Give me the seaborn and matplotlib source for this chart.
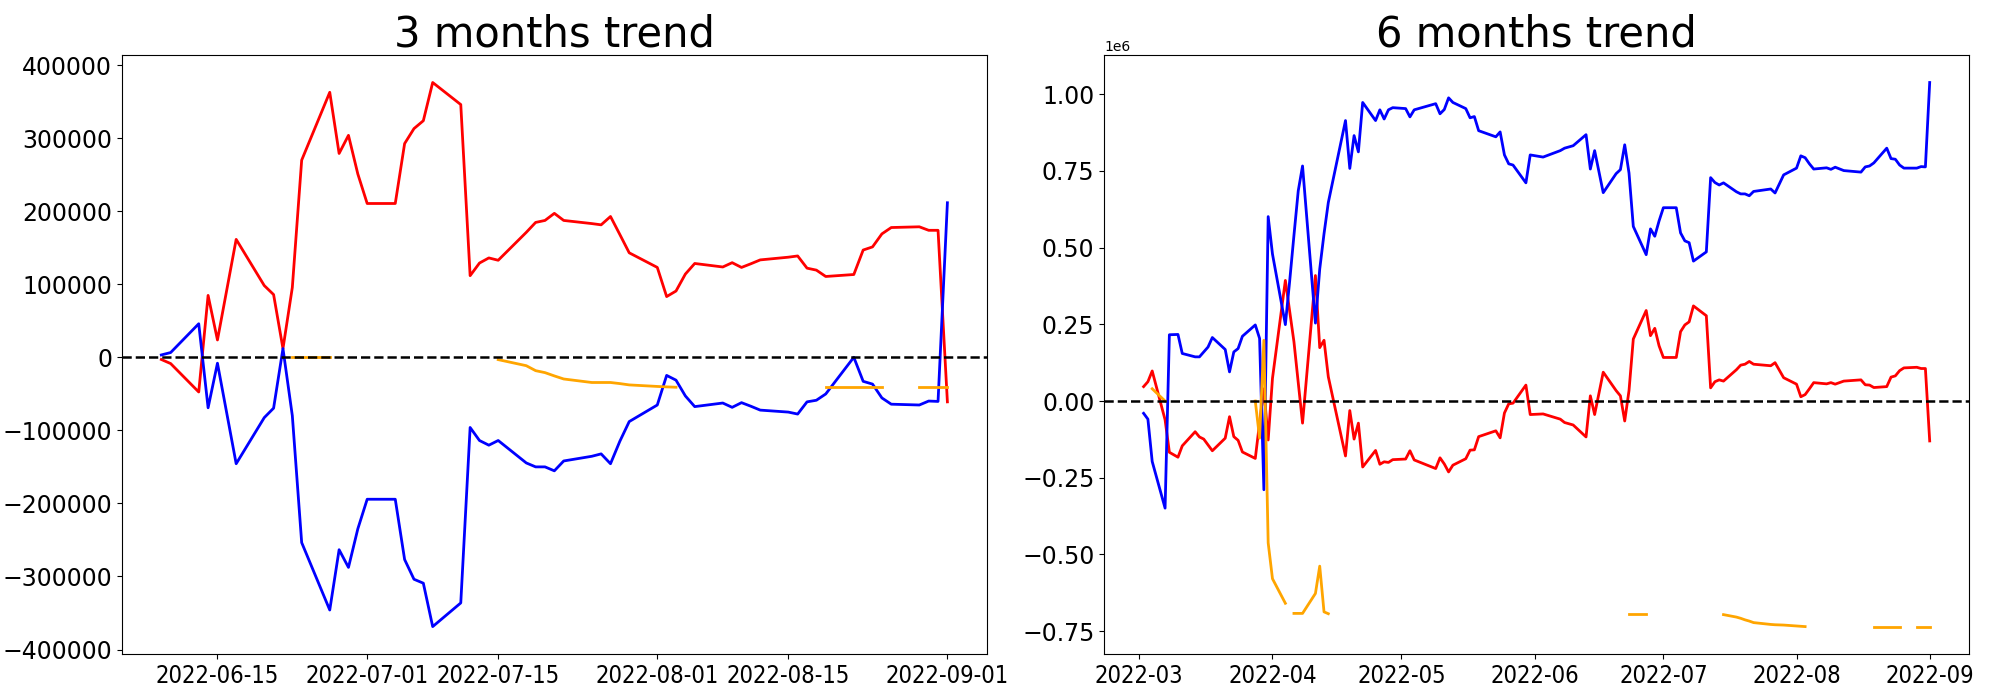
import matplotlib

matplotlib.use("Agg")
import matplotlib.dates as mdates
import matplotlib.pyplot as plt
import pandas as pd
import seaborn as sns

# ---- 3 months panel ----
dates_3m = [
    "2022-06-09", "2022-06-10", "2022-06-13", "2022-06-14", "2022-06-15", "2022-06-17",
    "2022-06-20", "2022-06-21", "2022-06-22", "2022-06-23", "2022-06-24", "2022-06-27",
    "2022-06-28", "2022-06-29", "2022-06-30", "2022-07-01", "2022-07-04", "2022-07-05",
    "2022-07-06", "2022-07-07", "2022-07-08", "2022-07-11", "2022-07-12", "2022-07-13",
    "2022-07-14", "2022-07-15", "2022-07-18", "2022-07-19", "2022-07-20", "2022-07-21",
    "2022-07-22", "2022-07-25", "2022-07-26", "2022-07-27", "2022-07-28", "2022-07-29",
    "2022-08-01", "2022-08-02", "2022-08-03", "2022-08-04", "2022-08-05", "2022-08-08",
    "2022-08-09", "2022-08-10", "2022-08-11", "2022-08-12", "2022-08-15", "2022-08-16",
    "2022-08-17", "2022-08-18", "2022-08-19", "2022-08-22", "2022-08-23", "2022-08-24",
    "2022-08-25", "2022-08-26", "2022-08-29", "2022-08-30", "2022-08-31", "2022-09-01",
]
red_3m = [
    -3000, -8600, -47500, 84700, 23700, 161400,
    98200, 85800, 11900, 95500, 269800, 362700,
    279000, 303800, 250900, 210500, 210500, 292500,
    313000, 323800, 376100, 345900, 111700, 129000,
    136000, 132800, 171000, 184600, 187300, 197000,
    187300, 183000, 181300, 192700, 168000, 143000,
    123000, 83100, 90700, 113900, 128400, 123600,
    129500, 123000, 128000, 133300, 137000, 138700,
    122000, 119300, 110600, 113300, 146800, 151100,
    168900, 177600, 178600, 173800, 173800, -61000,
]
blue_3m = [
    3200, 6500, 45900, -69100, -8100, -145700,
    -82600, -69600, 11900, -79900, -253600, -345900,
    -263400, -287600, -234800, -194300, -194300, -276800,
    -303800, -309200, -368600, -336200, -96100, -113900,
    -120300, -113900, -144600, -150000, -150000, -155400,
    -141900, -135500, -132200, -145700, -114900, -88000,
    -65300, -24800, -31300, -52900, -67500, -62600,
    -68500, -62100, -67000, -72300, -75000, -77700,
    -61000, -58800, -50200, 0, -32900, -36700,
    -55600, -64200, -65300, -59900, -60400, 211500,
]
orange_3m = [
    None, None, None, None, None, None,
    None, None, None, 0, 0, 0,
    None, None, None, None, None, None,
    None, None, None, None, None, None,
    None, -3200, -11500, -18300, -21000, -25500,
    -29700, -34500, -34500, -34500, -36000, -37800,
    -39900, -40500, -41000, None, None, None,
    None, None, None, None, None, None,
    None, None, -41000, -41000, -41000, -41000,
    -41000, None, -41000, -41000, -41000, -41000,
]

# ---- 6 months panel ----
dates_6m = [
    "2022-03-02", "2022-03-03", "2022-03-04", "2022-03-07", "2022-03-08", "2022-03-10",
    "2022-03-11", "2022-03-14", "2022-03-15", "2022-03-16", "2022-03-17", "2022-03-18",
    "2022-03-21", "2022-03-22", "2022-03-23", "2022-03-24", "2022-03-25", "2022-03-28",
    "2022-03-29", "2022-03-30", "2022-03-31",
    "2022-04-01", "2022-04-04", "2022-04-05", "2022-04-06", "2022-04-07", "2022-04-08",
    "2022-04-11", "2022-04-12", "2022-04-13", "2022-04-14", "2022-04-18", "2022-04-19",
    "2022-04-20", "2022-04-21", "2022-04-22", "2022-04-25", "2022-04-26", "2022-04-27",
    "2022-04-28", "2022-04-29",
    "2022-05-02", "2022-05-03", "2022-05-04", "2022-05-09", "2022-05-10", "2022-05-11",
    "2022-05-12", "2022-05-13", "2022-05-16", "2022-05-17", "2022-05-18", "2022-05-19",
    "2022-05-23", "2022-05-24", "2022-05-25", "2022-05-26", "2022-05-27", "2022-05-30",
    "2022-05-31",
    "2022-06-03", "2022-06-07", "2022-06-08", "2022-06-10", "2022-06-13", "2022-06-14",
    "2022-06-15", "2022-06-17", "2022-06-20", "2022-06-21", "2022-06-22", "2022-06-23",
    "2022-06-24", "2022-06-27", "2022-06-28", "2022-06-29", "2022-06-30",
    "2022-07-01", "2022-07-04", "2022-07-05", "2022-07-06", "2022-07-07", "2022-07-08",
    "2022-07-11", "2022-07-12", "2022-07-13", "2022-07-14", "2022-07-15", "2022-07-18",
    "2022-07-19", "2022-07-20", "2022-07-21", "2022-07-22", "2022-07-26", "2022-07-27",
    "2022-07-29",
    "2022-08-01", "2022-08-02", "2022-08-03", "2022-08-04", "2022-08-05", "2022-08-08",
    "2022-08-09", "2022-08-10", "2022-08-12", "2022-08-16", "2022-08-17", "2022-08-18",
    "2022-08-19", "2022-08-22", "2022-08-23", "2022-08-24", "2022-08-25", "2022-08-26",
    "2022-08-29", "2022-08-30", "2022-08-31",
    "2022-09-01",
]
red_6m = [
    0.047, 0.063, 0.098, -0.061, -0.167, -0.183,
    -0.146, -0.100, -0.117, -0.124, -0.143, -0.162,
    -0.121, -0.051, -0.116, -0.128, -0.166, -0.187,
    -0.070, 0.040, -0.127,
    0.074, 0.393, 0.293, 0.193, 0.060, -0.072,
    0.409, 0.174, 0.198, 0.079, -0.179, -0.031,
    -0.124, -0.072, -0.215, -0.161, -0.206, -0.198,
    -0.200, -0.191,
    -0.189, -0.162, -0.192, -0.220, -0.185, -0.205,
    -0.231, -0.209, -0.188, -0.160, -0.159, -0.116,
    -0.097, -0.120, -0.039, -0.009, -0.007, 0.052,
    -0.044,
    -0.042, -0.059, -0.070, -0.078, -0.117, 0.017,
    -0.044, 0.094, 0.034, 0.017, -0.065, 0.034,
    0.202, 0.295, 0.213, 0.237, 0.180,
    0.142, 0.142, 0.226, 0.248, 0.258, 0.310,
    0.278, 0.043, 0.063, 0.069, 0.065, 0.102,
    0.117, 0.120, 0.129, 0.120, 0.115, 0.125,
    0.076,
    0.055, 0.014, 0.021, 0.040, 0.060, 0.056,
    0.060, 0.055, 0.065, 0.069, 0.053, 0.052,
    0.044, 0.047, 0.078, 0.082, 0.099, 0.108,
    0.110, 0.106, 0.106,
    -0.130,
]
blue_6m = [
    -0.040, -0.059, -0.197, -0.349, 0.216, 0.217,
    0.155, 0.144, 0.144, 0.160, 0.176, 0.207,
    0.168, 0.095, 0.160, 0.171, 0.211, 0.248,
    0.204, -0.289, 0.601,
    0.479, 0.249, 0.390, 0.540, 0.685, 0.766,
    0.254, 0.430, 0.545, 0.647, 0.914, 0.758,
    0.865, 0.812, 0.973, 0.914, 0.949, 0.919,
    0.949, 0.956,
    0.953, 0.926, 0.949, 0.969, 0.936, 0.950,
    0.988, 0.973, 0.953, 0.923, 0.927, 0.881,
    0.861, 0.877, 0.802, 0.773, 0.769, 0.711,
    0.802,
    0.795, 0.816, 0.824, 0.832, 0.868, 0.756,
    0.816, 0.679, 0.741, 0.754, 0.835, 0.743,
    0.569, 0.477, 0.561, 0.537, 0.587,
    0.630, 0.630, 0.548, 0.522, 0.516, 0.456,
    0.486, 0.728, 0.712, 0.704, 0.711, 0.682,
    0.675, 0.675, 0.669, 0.683, 0.691, 0.678,
    0.737,
    0.759, 0.799, 0.793, 0.773, 0.756, 0.760,
    0.755, 0.762, 0.751, 0.746, 0.763, 0.766,
    0.776, 0.824, 0.790, 0.788, 0.769, 0.759,
    0.759, 0.764, 0.763,
    1.038,
]
orange_6m = [
    None, None, 0.040, 0.0, None, None,
    None, None, None, None, None, None,
    None, None, None, None, None, 0.0,
    -0.121, 0.198, -0.462,
    -0.579, -0.659, None, -0.692, -0.692, -0.692,
    -0.627, -0.538, -0.687, -0.693, None, None,
    None, None, None, None, None, None,
    None, None,
    None, None, None, None, None, None,
    None, None, None, None, None, None,
    None, None, None, None, None, None,
    None,
    None, None, None, None, None, None,
    None, None, None, None, None, -0.694,
    -0.694, -0.694, None, None, None,
    None, None, None, None, None, None,
    None, None, None, None, -0.696, -0.704,
    -0.708, -0.713, -0.717, -0.722, -0.728, -0.729,
    -0.730,
    -0.733, -0.734, -0.735, None, None, None,
    None, None, None, None, None, None,
    -0.735, -0.735, -0.735, -0.735, -0.735, None,
    -0.735, -0.735, -0.735,
    -0.735,
]


def trend_frame(dates, red, blue, orange):
    return pd.DataFrame({
        "date": pd.to_datetime(dates),
        "red": pd.Series(red, dtype=float),
        "blue": pd.Series(blue, dtype=float),
        "orange": pd.Series(orange, dtype=float),
    })


def draw_panel(ax, df, title, scale=1.0):
    df = df.copy()
    for col in ("red", "blue", "orange"):
        df[col] = df[col] * scale
    sns.lineplot(data=df, x="date", y="red", color="red", linewidth=2, ax=ax)
    sns.lineplot(data=df, x="date", y="blue", color="blue", linewidth=2, ax=ax)
    # seaborn drops NaN rows, so split orange into its contiguous pieces
    org = df[["date", "orange"]].copy()
    org["seg"] = org["orange"].isna().cumsum()
    org = org.dropna()
    sns.lineplot(data=org, x="date", y="orange", units="seg", estimator=None,
                 color="orange", linewidth=2, ax=ax)
    ax.axhline(0, color="black", linestyle="--", linewidth=1.8)
    ax.set_title(title, fontsize=30)
    ax.set_xlabel("")
    ax.set_ylabel("")
    ax.tick_params(labelsize=17)


fig, axes = plt.subplots(1, 2, figsize=(20, 7))
fig.subplots_adjust(left=0.061, right=0.9845, bottom=0.066, top=0.921, wspace=0.136)

draw_panel(axes[0], trend_frame(dates_3m, red_3m, blue_3m, orange_3m), "3 months trend")
axes[0].xaxis.set_major_locator(mdates.DayLocator(bymonthday=[1, 15]))
axes[0].xaxis.set_major_formatter(mdates.DateFormatter("%Y-%m-%d"))

draw_panel(axes[1], trend_frame(dates_6m, red_6m, blue_6m, orange_6m), "6 months trend", scale=1e6)
axes[1].xaxis.set_major_locator(mdates.MonthLocator())
axes[1].xaxis.set_major_formatter(mdates.DateFormatter("%Y-%m"))

# date labels in the reference are set narrower than the value labels
for ax in axes:
    plt.setp(ax.get_xticklabels(), fontstretch="condensed")

fig.savefig("out.png", dpi=100)
plt.close(fig)
